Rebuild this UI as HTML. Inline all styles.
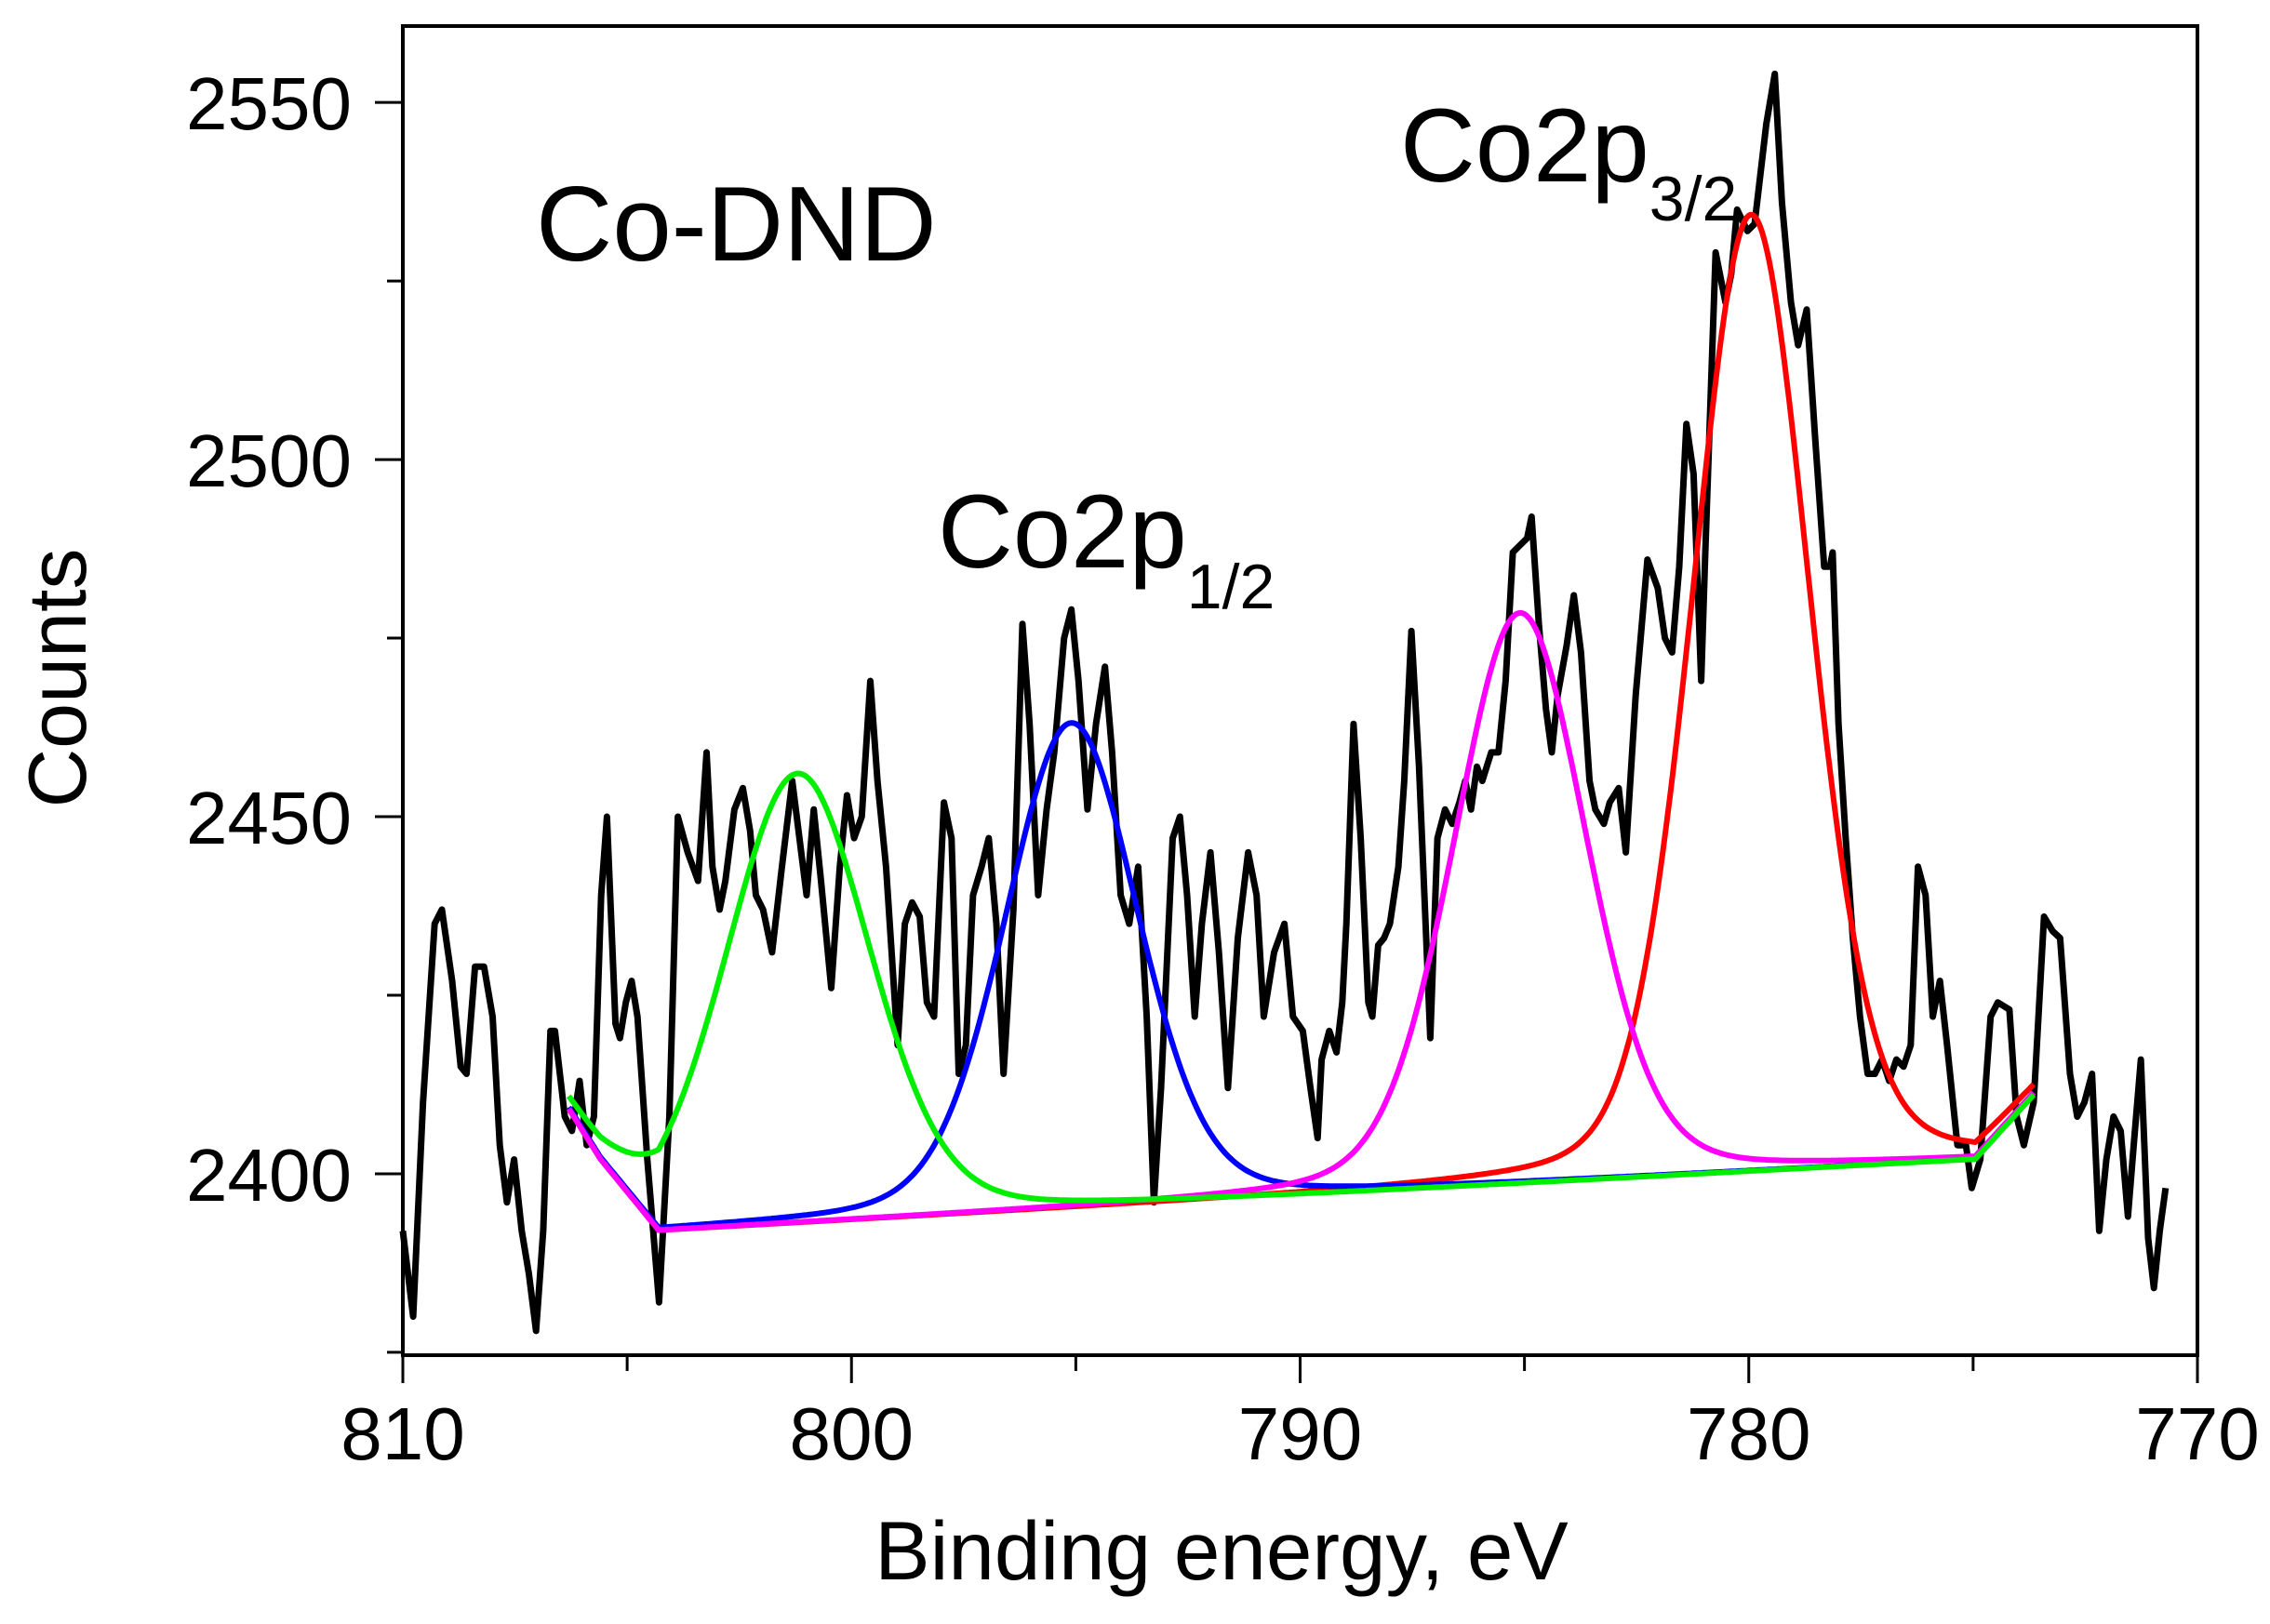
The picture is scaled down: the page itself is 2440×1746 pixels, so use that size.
<!DOCTYPE html>
<html><head><meta charset="utf-8"><style>
html,body{margin:0;padding:0;background:#fff;}
svg{display:block;font-family:"Liberation Sans",Arial,sans-serif;}
</style></head><body>
<svg id="chart" width="2440" height="1746" viewBox="0 0 2440 1746">
<g id="plot"></g>
<g id="axes"></g>
<text x="576" y="280" font-size="114">Co-DND</text>
<text x="1505" y="195" font-size="112">Co2p<tspan font-size="68" dy="42">3/2</tspan></text>
<text x="1008" y="610" font-size="112">Co2p<tspan font-size="68" dy="44">1/2</tspan></text>
<text x="1313" y="1698" font-size="89" text-anchor="middle">Binding energy, eV</text>
<text transform="translate(92,729) rotate(-90)" font-size="88" text-anchor="middle">Counts</text>
</svg>
<script>
const energy = [810.00,809.77,809.55,809.29,809.13,808.90,808.71,808.58,808.39,808.19,808.00,807.84,807.68,807.52,807.35,807.19,807.03,806.87,806.71,806.61,806.39,806.23,806.06,805.90,805.74,805.58,805.45,805.26,805.16,805.03,804.90,804.77,804.55,804.29,804.06,803.87,803.65,803.42,803.23,803.10,802.94,802.81,802.61,802.42,802.26,802.13,801.97,801.77,801.55,801.32,801.16,801.00,800.84,800.68,800.45,800.26,800.10,799.94,799.77,799.58,799.42,799.23,798.97,798.81,798.65,798.48,798.32,798.16,797.94,797.77,797.61,797.45,797.29,797.10,796.94,796.77,796.61,796.39,796.19,796.03,795.84,795.65,795.48,795.26,795.10,794.94,794.74,794.55,794.35,794.19,794.00,793.81,793.61,793.42,793.26,793.10,792.84,792.68,792.52,792.35,792.19,792.00,791.81,791.61,791.39,791.16,790.97,790.81,790.58,790.35,790.16,789.94,789.77,789.61,789.52,789.35,789.19,789.06,788.97,788.81,788.65,788.48,788.39,788.26,788.13,788.00,787.81,787.68,787.52,787.35,787.19,787.10,786.94,786.77,786.61,786.45,786.32,786.19,786.06,785.94,785.74,785.58,785.42,785.26,785.10,784.94,784.84,784.68,784.52,784.39,784.26,784.06,783.90,783.74,783.55,783.42,783.23,783.10,782.90,782.74,782.52,782.26,782.03,781.87,781.71,781.55,781.39,781.23,781.06,780.97,780.74,780.52,780.39,780.26,780.03,779.87,779.61,779.42,779.26,779.06,778.90,778.71,778.52,778.32,778.19,778.13,778.00,777.84,777.68,777.52,777.35,777.19,777.03,776.87,776.71,776.55,776.39,776.23,776.06,775.90,775.74,775.58,775.35,775.16,775.03,774.84,774.61,774.45,774.19,774.03,773.87,773.65,773.42,773.23,773.06,772.84,772.68,772.52,772.35,772.19,772.03,771.87,771.71,771.55,771.42,771.26,771.10,770.97,770.84,770.71];
const counts = [2392,2380,2410,2435,2437,2427,2415,2414,2429,2429,2422,2404,2396,2402,2392,2386,2378,2392,2420,2420,2408,2406,2413,2404,2408,2439,2450,2421,2419,2424,2427,2422,2402,2382,2408,2450,2445,2441,2459,2443,2437,2441,2451,2454,2448,2439,2437,2431,2443,2455,2447,2439,2451,2441,2426,2443,2453,2447,2450,2469,2455,2443,2418,2435,2438,2436,2424,2422,2452,2447,2414,2418,2439,2443,2447,2435,2414,2437,2477,2463,2439,2451,2459,2475,2479,2469,2451,2463,2471,2459,2439,2435,2443,2422,2396,2412,2447,2450,2439,2422,2435,2445,2431,2412,2433,2445,2439,2422,2431,2435,2422,2420,2412,2405,2416,2420,2417,2424,2435,2463,2447,2424,2422,2432,2433,2435,2443,2455,2476,2457,2433,2419,2447,2451,2449,2452,2455,2451,2457,2455,2459,2459,2469,2487,2488,2489,2492,2477,2465,2459,2467,2474,2481,2473,2455,2451,2449,2452,2454,2445,2467,2486,2482,2475,2473,2485,2505,2498,2469,2487,2529,2522,2526,2535,2532,2533,2547,2554,2536,2522,2516,2521,2503,2485,2485,2487,2463,2447,2433,2422,2414,2414,2416,2413,2416,2415,2418,2443,2439,2422,2427,2418,2404,2404,2398,2402,2422,2424,2423,2408,2404,2410,2436,2434,2433,2414,2408,2410,2414,2392,2402,2408,2406,2394,2404,2416,2391,2384,2392,2398];
const bgEnergy = [806.3,805.9,805.6,804.3,774.95,773.65];
const bgCounts = [2409,2405,2402,2392,2402,2411];
const peakNames = ["red","blue","magenta","green"];
const peakColors = ["#ff0000","#0000ff","#ff00ff","#00ee00"];
const peakCenters = [779.95,795.1,785.1,801.2];
const peakHeights = [134,68,80,63];
const peakFwhm = [3.1,3.5,3.5,3.8];
const xTicks = [810,800,790,780,770];
const xMinor = [805,795,785,775];
const yTicks = [2400,2450,2500,2550];
const yMinor = [2375,2425,2475,2525];

const NS="http://www.w3.org/2000/svg";
const L=433,R=2362,T=28,B=1457;
const X0=810,X1=770,Y0=2374.6,Y1=2560.7;
const sx=v=>L+(X0-v)/(X0-X1)*(R-L);
const sy=v=>B-(v-Y0)/(Y1-Y0)*(B-T);
const plot=document.getElementById('plot'),axes=document.getElementById('axes');
function mk(tag,attrs,parent){const e=document.createElementNS(NS,tag);for(const k in attrs)e.setAttribute(k,attrs[k]);parent.appendChild(e);return e;}
function bg(e){
  if(e>=bgEnergy[0])return bgCounts[0];
  for(let i=0;i<bgEnergy.length-1;i++){
    if(e<=bgEnergy[i]&&e>=bgEnergy[i+1]){const t=(bgEnergy[i]-e)/(bgEnergy[i]-bgEnergy[i+1]);return bgCounts[i]+t*(bgCounts[i+1]-bgCounts[i]);}
  }
  return bgCounts[bgCounts.length-1];
}
function shape(e,i){
  const d=e-peakCenters[i],w=peakFwhm[i];
  const g=Math.exp(-4*Math.LN2*d*d/(w*w));
  const l=1/(1+4*d*d/(w*w));
  return peakHeights[i]*(0.8*g+0.2*l);
}
// raw spectrum
let dd="";
for(let i=0;i<energy.length;i++)dd+=(i?"L":"M")+sx(energy[i]).toFixed(1)+","+sy(counts[i]).toFixed(1);
const raw=mk('path',{d:dd,fill:'none',stroke:'#000','stroke-width':7,'stroke-linejoin':'round'},plot);


// fitted components
for(let i=0;i<peakNames.length;i++){
  let d="";
  for(let e=bgEnergy[0];e>=bgEnergy[bgEnergy.length-1]-0.001;e-=0.05){
    d+=(d?"L":"M")+sx(e).toFixed(1)+","+sy(bg(e)+shape(e,i)).toFixed(1);
  }
  const p=mk('path',{d:d,fill:'none',stroke:peakColors[i],'stroke-width':6,'stroke-linejoin':'round'},plot);
  
  
}
// frame
const fr=mk('rect',{x:L,y:T,width:R-L,height:B-T,fill:'none',stroke:'#000','stroke-width':4},axes);


xTicks.forEach(v=>{
  const t=mk('line',{x1:sx(v),x2:sx(v),y1:B,y2:B+30,stroke:'#000','stroke-width':3},axes);
  
  
  const tx=mk('text',{x:sx(v),y:1569,'font-size':80,'text-anchor':'middle'},axes);
  tx.textContent=v;
  
  
});
xMinor.forEach(v=>{
  const t=mk('line',{x1:sx(v),x2:sx(v),y1:B,y2:B+17,stroke:'#000','stroke-width':3},axes);
  
  
});
yTicks.forEach(v=>{
  const t=mk('line',{x1:L-30,x2:L,y1:sy(v),y2:sy(v),stroke:'#000','stroke-width':3},axes);
  
  
  const tx=mk('text',{x:378,y:sy(v)+29,'font-size':80,'text-anchor':'end'},axes);
  tx.textContent=v;
  
  
});
yMinor.forEach(v=>{
  const t=mk('line',{x1:L-17,x2:L,y1:sy(v),y2:sy(v),stroke:'#000','stroke-width':3},axes);
  
  
});
</script>
</body></html>
